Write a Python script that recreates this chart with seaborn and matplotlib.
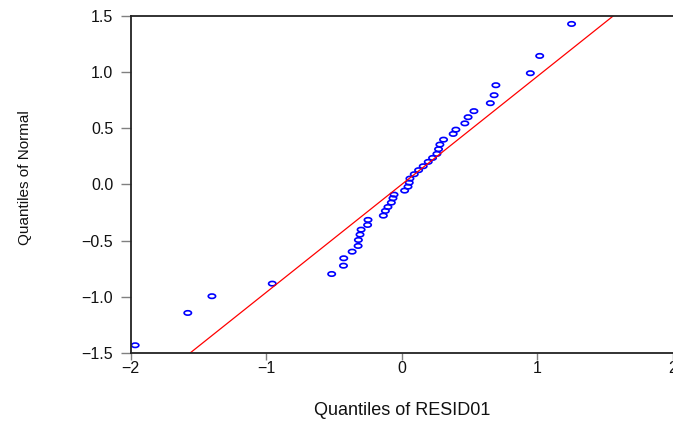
import numpy as np
import pandas as pd
import matplotlib
matplotlib.use("Agg")
import matplotlib.pyplot as plt
import seaborn as sns
from matplotlib.path import Path
from matplotlib.transforms import Affine2D

resid_q = [-1.966, -1.578, -1.400, -0.955, -0.517, -0.430, -0.428, -0.366,
           -0.322, -0.320, -0.308, -0.300, -0.252, -0.249, -0.136, -0.121,
           -0.102, -0.077, -0.065, -0.057, 0.021, 0.046, 0.055, 0.060,
           0.092, 0.124, 0.158, 0.195, 0.227, 0.259, 0.271, 0.281,
           0.308, 0.379, 0.399, 0.465, 0.489, 0.532, 0.653, 0.681,
           0.694, 0.948, 1.017, 1.252]
normal_q = [-1.433, -1.145, -0.996, -0.884, -0.798, -0.724, -0.658, -0.599,
            -0.548, -0.495, -0.447, -0.403, -0.361, -0.316, -0.278, -0.236,
            -0.201, -0.162, -0.123, -0.091, -0.055, -0.020, 0.016, 0.052,
            0.091, 0.127, 0.162, 0.201, 0.236, 0.272, 0.314, 0.355,
            0.399, 0.450, 0.488, 0.544, 0.599, 0.653, 0.724, 0.795,
            0.884, 0.991, 1.145, 1.430]

# reference line endpoints
line_x = [-1.559, 1.558]
line_y = [-1.5, 1.5]

x_ticks = [-2, -1, 0, 1, 2]
y_ticks = [-1.5, -1.0, -0.5, 0.0, 0.5, 1.0, 1.5]

df = pd.DataFrame({"resid": resid_q, "normal": normal_q})
ref = pd.DataFrame({"x": line_x, "y": line_y})

sns.set_style("ticks")
plt.rcParams["font.family"] = ["Liberation Sans", "DejaVu Sans"]

fig = plt.figure(figsize=(6.73, 4.23), dpi=100)
ax = fig.add_axes([0.194, 0.166, 0.806, 0.796])

# flat ellipse marker like the EViews output
ellipse = Path.unit_circle().transformed(Affine2D().scale(1.0, 0.6))

sns.lineplot(data=ref, x="x", y="y", color="#ff0000", linewidth=0.9, ax=ax)
sns.scatterplot(data=df, x="resid", y="normal", marker=ellipse, s=28,
                facecolor="none", edgecolor="#0000ff", linewidth=1.2, ax=ax)

def fmt(v, nd):
    s = f"{abs(v):.{nd}f}"
    return ("\u2212" + s) if v < 0 else s

ax.set_xlim(-2, 2)
ax.set_ylim(-1.5, 1.5)
ax.set_xticks(x_ticks)
ax.set_xticklabels([fmt(t, 0) for t in x_ticks])
ax.set_yticks(y_ticks)
ax.set_yticklabels([fmt(t, 1) for t in y_ticks])
ax.tick_params(axis="y", length=7.5, width=1, color="#808080", pad=5,
               labelsize=11.5, labelcolor="#111111")
ax.tick_params(axis="x", length=5, width=1, color="#808080", pad=1,
               labelsize=11.5, labelcolor="#111111")

for s in ["left", "top", "bottom"]:
    ax.spines[s].set_linewidth(1.3)
    ax.spines[s].set_color("#222222")
ax.spines["right"].set_visible(False)

ax.set_xlabel("Quantiles of RESID01", fontsize=13, color="#111111")
ax.set_ylabel("Quantiles of Normal", fontsize=11, color="#111111")
ax.xaxis.set_label_coords(0.5, -0.146)
ax.yaxis.set_label_coords(-0.182, 0.519)

fig.savefig("out.png", dpi=100)
